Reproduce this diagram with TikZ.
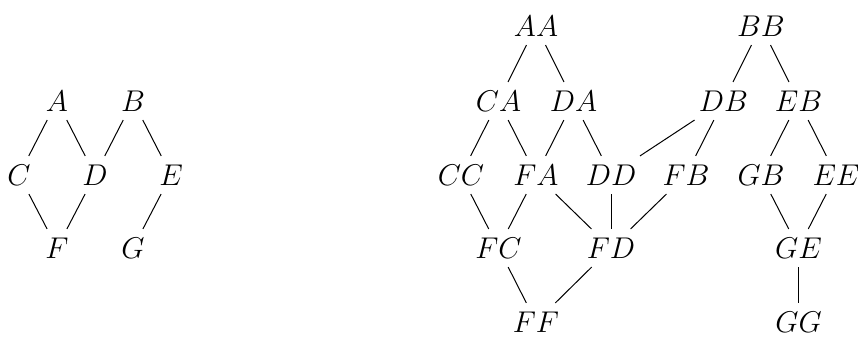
\documentclass[tikz,border=0pt]{standalone}
\begin{document}
\begin{tikzpicture}[x=0.4pt,y=-0.4pt,
  every node/.style={font=\large},
  el/.style={draw=black,line width=0.4pt}]
\useasboundingbox (0,0) rectangle (858,337);
% left diagram
\node (A) at (57,101) {$A$};
\node (B) at (133,101) {$B$};
\node (C) at (19,175) {$C$};
\node (D) at (95,175) {$D$};
\node (E) at (171,175) {$E$};
\node (F) at (57,248) {$F$};
\node (G) at (133,248) {$G$};
\draw[el] (A) -- (C);
\draw[el] (A) -- (D);
\draw[el] (B) -- (D);
\draw[el] (B) -- (E);
\draw[el] (C) -- (F);
\draw[el] (D) -- (F);
\draw[el] (E) -- (G);
% right diagram
\node (AA) at (536,26) {$AA$};
\node (BB) at (761,26) {$BB$};
\node (CA) at (498.5,101) {$CA$};
\node (DA) at (573.5,101) {$DA$};
\node (DB) at (723.5,101) {$DB$};
\node (EB) at (798.5,101) {$EB$};
\node (CC) at (461,175) {$CC$};
\node (FA) at (536,175) {$FA$};
\node (DD) at (611,175) {$DD$};
\node (FB) at (686,175) {$FB$};
\node (GB) at (761,175) {$GB$};
\node (EE) at (836,175) {$EE$};
\node (FC) at (498.5,248) {$FC$};
\node (FD) at (611,248) {$FD$};
\node (GE) at (798.5,248) {$GE$};
\node (FF) at (536,322) {$FF$};
\node (GG) at (798.5,322) {$GG$};
\draw[el] (AA) -- (CA);
\draw[el] (AA) -- (DA);
\draw[el] (BB) -- (DB);
\draw[el] (BB) -- (EB);
\draw[el] (CA) -- (CC);
\draw[el] (CA) -- (FA);
\draw[el] (DA) -- (FA);
\draw[el] (DA) -- (DD);
\draw[el] (DB) -- (DD);
\draw[el] (DB) -- (FB);
\draw[el] (EB) -- (GB);
\draw[el] (EB) -- (EE);
\draw[el] (CC) -- (FC);
\draw[el] (FA) -- (FC);
\draw[el] (FA) -- (FD);
\draw[el] (DD) -- (FD);
\draw[el] (FB) -- (FD);
\draw[el] (GB) -- (GE);
\draw[el] (EE) -- (GE);
\draw[el] (FC) -- (FF);
\draw[el] (FD) -- (FF);
\draw[el] (GE) -- (GG);
\end{tikzpicture}
\end{document}
